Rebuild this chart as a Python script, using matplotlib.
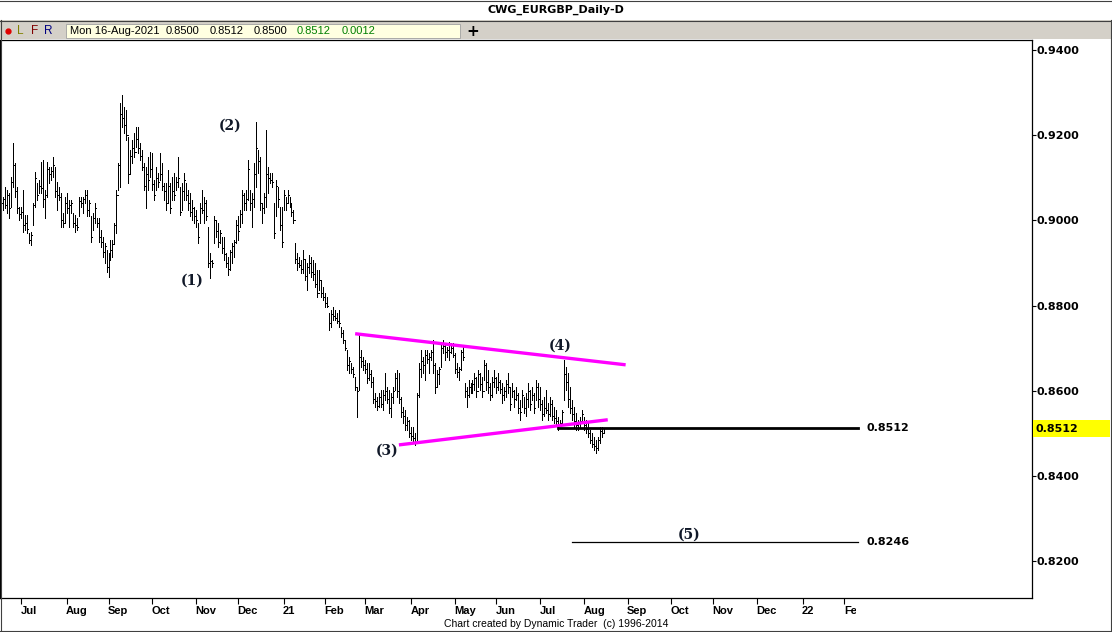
import matplotlib
matplotlib.use('Agg')
import matplotlib.pyplot as plt
from matplotlib.patches import Rectangle
from matplotlib.lines import Line2D
from matplotlib.transforms import Bbox, TransformedBbox
import numpy as np
import pandas as pd

W, H = 1112, 632

# daily EURGBP bars (pips, 0.0001), last bar = 16-Aug-2021
last_date = '2021-08-16'
highs = [
    9064, 9055, 9078, 9071, 9064, 9102, 9182, 9135, 9078, 9032,
    9032, 9071, 9013, 9013, 8970, 8973, 9041, 9114, 9088, 9095,
    9137, 9142, 9071, 9137, 9125, 9125, 9149, 9125, 9090, 9078,
    9064, 9017, 9055, 9064, 9048, 9048, 9017, 9013, 9006, 9055,
    9055, 9055, 9071, 9071, 9048, 9010, 9017, 9041, 9006, 9006,
    8978, 8961, 8947, 8931, 8924, 8954, 8954, 8994, 9071, 9135,
    9276, 9294, 9266, 9259, 9196, 9165, 9189, 9205, 9219, 9219,
    9182, 9165, 9135, 9125, 9149, 9161, 9158, 9095, 9125, 9111,
    9158, 9135, 9088, 9088, 9118, 9088, 9102, 9111, 9102, 9149,
    9078, 9088, 9111, 9088, 9071, 9064, 9048, 9032, 9024, 8994,
    9041, 9071, 9055, 9048, 8985, 8924, 8907, 9010, 9001, 8994,
    8978, 8961, 8961, 8924, 8914, 8931, 8947, 8954, 9001, 9010,
    9024, 9071, 9064, 9071, 9142, 9071, 9064, 9135, 9231, 9165,
    9149, 9041, 9064, 9212, 9125, 9111, 9111, 9041, 9095, 9078,
    9032, 9032, 9071, 9055, 9071, 9055, 9041, 9024, 8947, 8924,
    8914, 8907, 8931, 8907, 8900, 8919, 8914, 8907, 8900, 8884,
    8884, 8860, 8844, 8830, 8821, 8783, 8790, 8797, 8790, 8783,
    8790, 8750, 8743, 8719, 8696, 8680, 8665, 8656, 8633, 8609,
    8736, 8696, 8680, 8672, 8665, 8665, 8649, 8633, 8595, 8586,
    8595, 8602, 8602, 8642, 8609, 8602, 8595, 8609, 8642, 8649,
    8642, 8586, 8562, 8555, 8539, 8532, 8515, 8515, 8501, 8595,
    8665, 8696, 8680, 8696, 8696, 8689, 8696, 8719, 8665, 8649,
    8656, 8712, 8719, 8712, 8703, 8715, 8712, 8712, 8689, 8665,
    8656, 8696, 8703, 8619, 8609, 8626, 8619, 8626, 8642, 8633,
    8649, 8642, 8633, 8672, 8665, 8649, 8619, 8633, 8649, 8633,
    8642, 8626, 8619, 8609, 8626, 8642, 8609, 8619, 8602, 8609,
    8595, 8579, 8602, 8586, 8595, 8619, 8602, 8609, 8595, 8626,
    8619, 8609, 8579, 8586, 8602, 8572, 8586, 8579, 8562, 8555,
    8539, 8532, 8555, 8672, 8656, 8642, 8609, 8579, 8562, 8548,
    8532, 8539, 8555, 8539, 8532, 8525, 8508, 8501, 8492, 8485,
    8492, 8515, 8515, 8512,
]
lows = [
    9024, 9024, 9030, 9017, 9006, 9032, 9078, 9055, 9017, 9001,
    9006, 8973, 8978, 8970, 8947, 8942, 8990, 9032, 9048, 9064,
    9064, 9032, 9006, 9055, 9088, 9095, 9102, 9055, 9024, 9048,
    8985, 8985, 8994, 9017, 8985, 9017, 8985, 8973, 8978, 9010,
    9032, 9017, 9041, 9010, 9010, 8950, 8978, 8994, 8985, 8950,
    8938, 8914, 8900, 8879, 8867, 8907, 8914, 8947, 8970, 9071,
    9078, 9219, 9205, 9189, 9088, 9111, 9135, 9149, 9172, 9158,
    9142, 9118, 9071, 9029, 9071, 9102, 9071, 9048, 9071, 9078,
    9095, 9071, 9048, 9024, 9041, 9017, 9048, 9048, 9071, 9078,
    9013, 9024, 9048, 9048, 9024, 9010, 9001, 8994, 8985, 8947,
    8994, 9017, 8994, 9001, 8891, 8865, 8891, 8947, 8961, 8938,
    8947, 8924, 8907, 8891, 8872, 8884, 8900, 8914, 8947, 8954,
    8985, 8994, 9024, 9024, 9048, 9024, 8985, 9032, 9078, 9111,
    9024, 8994, 9017, 9032, 9064, 9088, 9078, 8959, 9010, 9032,
    8978, 8938, 9024, 9024, 9041, 9032, 9010, 8994, 8900, 8884,
    8891, 8877, 8877, 8860, 8837, 8877, 8867, 8860, 8844, 8821,
    8837, 8821, 8813, 8797, 8797, 8743, 8750, 8766, 8766, 8759,
    8750, 8726, 8712, 8696, 8649, 8642, 8642, 8633, 8602, 8539,
    8602, 8656, 8649, 8642, 8619, 8626, 8609, 8572, 8562, 8555,
    8562, 8562, 8555, 8579, 8572, 8548, 8539, 8572, 8602, 8586,
    8572, 8539, 8525, 8508, 8508, 8492, 8485, 8478, 8473, 8478,
    8586, 8633, 8642, 8626, 8665, 8642, 8672, 8642, 8595, 8609,
    8616, 8656, 8689, 8672, 8680, 8672, 8689, 8680, 8642, 8633,
    8626, 8649, 8672, 8586, 8562, 8586, 8595, 8595, 8602, 8586,
    8609, 8602, 8586, 8626, 8602, 8595, 8579, 8586, 8609, 8595,
    8602, 8595, 8572, 8579, 8586, 8595, 8555, 8586, 8562, 8579,
    8548, 8532, 8562, 8548, 8541, 8562, 8555, 8579, 8548, 8579,
    8562, 8555, 8532, 8541, 8548, 8532, 8541, 8532, 8525, 8518,
    8508, 8518, 8525, 8579, 8602, 8562, 8548, 8532, 8515, 8508,
    8508, 8515, 8525, 8508, 8501, 8492, 8478, 8468, 8461, 8454,
    8461, 8478, 8492, 8500,
]
closes = [
    9040, 9050, 9035, 9060, 9030, 9090, 9130, 9070, 9030, 9015,
    9020, 8990, 8995, 8980, 8955, 8965, 9035, 9100, 9060, 9080,
    9075, 9050, 9060, 9120, 9110, 9115, 9130, 9070, 9060, 9055,
    9000, 8995, 9040, 9030, 9035, 9040, 8995, 8990, 8985, 9045,
    9040, 9050, 9060, 9025, 9040, 8960, 9005, 9030, 8995, 8960,
    8950, 8925, 8940, 8890, 8910, 8930, 8945, 8990, 9060, 9130,
    9250, 9240, 9225, 9200, 9110, 9150, 9170, 9160, 9190, 9170,
    9150, 9125, 9080, 9110, 9095, 9120, 9085, 9060, 9100, 9090,
    9110, 9080, 9070, 9040, 9080, 9030, 9070, 9060, 9090, 9100,
    9020, 9070, 9095, 9060, 9040, 9020, 9030, 9010, 9000, 8960,
    9030, 9025, 9040, 9010, 8900, 8905, 8900, 9000, 8975, 8950,
    8970, 8935, 8920, 8900, 8885, 8925, 8940, 8950, 8990, 8975,
    9015, 9060, 9040, 9050, 9120, 9040, 9050, 9110, 9170, 9140,
    9040, 9030, 9055, 9110, 9100, 9095, 9090, 8970, 9080, 9050,
    8990, 8950, 9060, 9040, 9060, 9040, 9020, 9000, 8910, 8900,
    8895, 8885, 8910, 8870, 8890, 8900, 8880, 8875, 8850, 8830,
    8860, 8830, 8820, 8805, 8800, 8760, 8780, 8775, 8770, 8765,
    8760, 8735, 8720, 8700, 8660, 8670, 8650, 8640, 8610, 8600,
    8680, 8670, 8660, 8650, 8630, 8640, 8620, 8580, 8575, 8565,
    8585, 8570, 8590, 8600, 8580, 8560, 8585, 8600, 8630, 8600,
    8580, 8550, 8540, 8520, 8530, 8500, 8495, 8490, 8480, 8590,
    8650, 8670, 8660, 8685, 8675, 8680, 8690, 8660, 8610, 8640,
    8650, 8700, 8705, 8690, 8695, 8690, 8700, 8685, 8650, 8645,
    8650, 8690, 8680, 8600, 8590, 8610, 8605, 8615, 8630, 8600,
    8640, 8615, 8600, 8660, 8620, 8610, 8590, 8620, 8630, 8610,
    8620, 8605, 8590, 8600, 8615, 8610, 8570, 8600, 8580, 8590,
    8560, 8550, 8590, 8560, 8580, 8600, 8570, 8590, 8560, 8610,
    8580, 8570, 8545, 8560, 8555, 8545, 8570, 8540, 8535, 8530,
    8520, 8525, 8550, 8640, 8620, 8580, 8560, 8545, 8530, 8520,
    8525, 8530, 8545, 8520, 8510, 8500, 8485, 8475, 8470, 8465,
    8485, 8505, 8500, 8512,
]

# trend lines / levels (bar index, price)
upper_x = [178, 314]
upper_y = [0.8734, 0.8661]
lower_x = [200, 305]
lower_y = [0.8473, 0.8532]
level_now = 0.8512
level_now_x = [280, 431]
level_target = 0.8246
level_target_x = [287, 431]
wave_labels = ['(1)', '(2)', '(3)', '(4)', '(5)']
wave_x = [96, 115, 194, 281, 346]
wave_y = [0.8858, 0.9222, 0.8459, 0.8705, 0.8263]
price_ticks = [0.82, 0.84, 0.86, 0.88, 0.90, 0.92, 0.94]

hi = np.array(highs) / 10000.
lo = np.array(lows) / 10000.
cl = np.array(closes) / 10000.
n = len(hi)
dates = pd.bdate_range(end=last_date, periods=n)
cal = pd.bdate_range(dates[0], '2022-02-28')
idx = np.arange(n)

fig = plt.figure(figsize=(W / 100, H / 100), dpi=100)

def fx(x):
    return x / W

def fy(y):
    return 1 - y / H

def box(x0, y0, x1, y1, fc, ec='none', lw=0):
    fig.add_artist(Rectangle((fx(x0), fy(y1)), (x1 - x0) / W, (y1 - y0) / H,
                             transform=fig.transFigure, facecolor=fc,
                             edgecolor=ec, linewidth=lw))

def line_px(xs, ys, **kw):
    fig.add_artist(Line2D([fx(x) for x in xs], [fy(y) for y in ys],
                          transform=fig.transFigure, **kw))

# title bar + toolbar
box(0, 20, 1111, 39, '#d4d0c8')
line_px([0, 1112], [0.5, 0.5], color='#404040', lw=0.8)
line_px([0, 1112], [20.5, 20.5], color='#404040', lw=0.8)
fig.text(fx(556), fy(10), 'CWG_EURGBP_Daily-D', ha='center', va='center',
         fontsize=8, fontweight='bold', family='DejaVu Sans')
line_px([7.5], [31], marker='o', markersize=3.5, color='#e00000', lw=0)
for x, s, c in [(20, 'L', '#808000'), (35, 'F', '#800000'), (48, 'R', '#000080')]:
    fig.text(fx(x), fy(31), s, ha='center', va='center', fontsize=8.5,
             color=c, family='Liberation Sans')
box(66, 24, 460, 38, '#ffffe1', ec='#a0a0a0', lw=0.6)
for x, s, c in [(70, 'Mon 16-Aug-2021', 'black'), (166, '0.8500', 'black'),
                (210, '0.8512', 'black'), (254, '0.8500', 'black'),
                (297, '0.8512', '#008000'), (342, '0.0012', '#008000')]:
    fig.text(fx(x), fy(31.5), s, ha='left', va='center', fontsize=8,
             color=c, family='Liberation Sans')
fig.text(fx(473), fy(31), '+', ha='center', va='center', fontsize=11,
         fontweight='bold', family='DejaVu Sans')

# main chart
ax = fig.add_axes([0, fy(598), fx(1032), 558 / H])
px0, pxs = 1.1, 1.989
ax.set_xlim((0 - px0) / pxs, (1032 - px0) / pxs)
ax.set_ylim(0.94 - 548 / 4260., 0.94 + 10 / 4260.)

ax.vlines(idx, lo, hi, color='black', lw=0.72, antialiased=False)
ax.hlines(cl, idx, idx + 0.6, color='black', lw=0.72, antialiased=False)

ax.plot(upper_x, upper_y, color='#ff00ff', lw=2.4, solid_capstyle='butt')
ax.plot(lower_x, lower_y, color='#ff00ff', lw=2.4, solid_capstyle='butt')
ax.plot(level_now_x, [level_now, level_now], color='black', lw=2.0)
ax.plot(level_target_x, [level_target, level_target], color='black', lw=0.9)
for xx, lv in [(level_now_x[1], level_now), (level_target_x[1], level_target)]:
    ax.text(xx + 4, lv, '%.4f' % lv, ha='left', va='center', fontsize=8,
            fontweight='bold', family='DejaVu Sans')
for s, x, y in zip(wave_labels, wave_x, wave_y):
    ax.text(x, y, s, ha='center', va='center', fontsize=10,
            fontweight='bold', family='DejaVu Serif', color='#101828')

# right price scale
ax.yaxis.tick_right()
ax.set_yticks(price_ticks)
ax.set_yticklabels(['%.4f' % p for p in price_ticks])
ax.tick_params(axis='y', length=3, width=0.8, pad=0.5, labelsize=8)
for t in ax.get_yticklabels():
    t.set_fontweight('bold')
    t.set_family('DejaVu Sans')

# month axis
month_pos, month_lab = [], []
prev = None
for i, d in enumerate(cal):
    key = (d.year, d.month)
    if prev is not None and key != prev:
        x_px = px0 + pxs * i
        if x_px < 858:
            month_pos.append(i)
            month_lab.append(d.strftime('%y') if d.month == 1 else d.strftime('%b'))
    prev = key
ax.set_xticks(month_pos)
ax.set_xticklabels([])
ax.tick_params(axis='x', length=4, width=0.8, direction='out')
clip = TransformedBbox(Bbox([[0, 0], [fx(856), 1]]), fig.transFigure)
for p, s in zip(month_pos, month_lab):
    t = ax.text(p - 0.3, -0.0235, s, transform=ax.get_xaxis_transform(),
                ha='left', va='center', fontsize=8, fontweight='bold',
                family='Liberation Sans')
    t.set_clip_on(True)
    t.set_clip_box(clip)

for sp in ax.spines.values():
    sp.set_linewidth(0.9)

# yellow current price tag on the scale
box(1033, 420, 1110, 437, '#ffff00')
fig.text(fx(1036), fy(428.5), '0.8512', ha='left', va='center', fontsize=8,
         fontweight='bold', family='DejaVu Sans')

# outer frame + footer
line_px([1110.5, 1110.5], [20, 632], color='#404040', lw=0.8)
line_px([0.5, 0.5], [20, 632], color='#404040', lw=0.8)
line_px([0, 1112], [631, 631], color='#404040', lw=0.8)
fig.text(fx(556), fy(624), 'Chart created by Dynamic Trader  (c) 1996-2014',
         ha='center', va='center', fontsize=7.5, family='Liberation Sans')

fig.savefig('out.png', dpi=100)
